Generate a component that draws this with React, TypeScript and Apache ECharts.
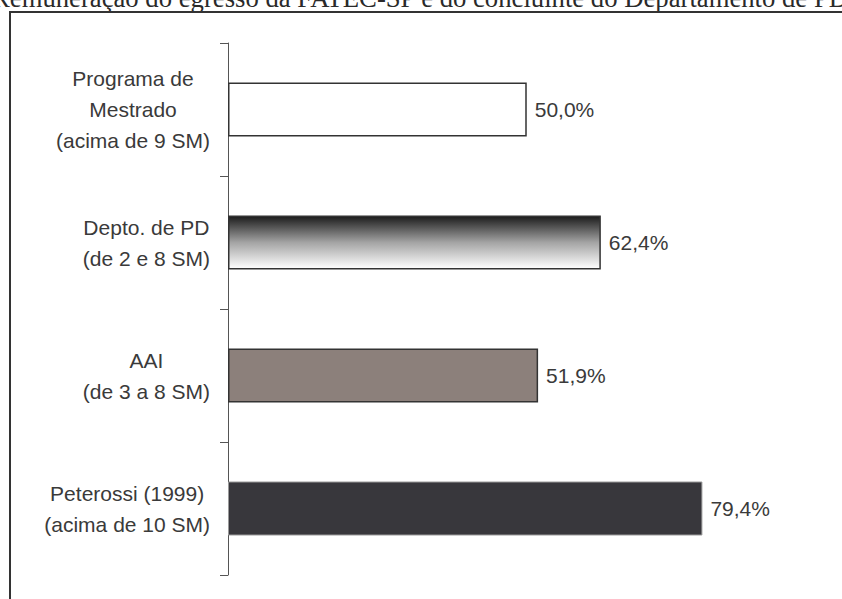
import React, { useEffect, useRef } from "react";
import * as echarts from "echarts";

const titleText = "Remuneração do egresso da FATEC-SP e do concluinte do Departamento de PD";
const categories = [
  "Programa de\nMestrado\n(acima de 9 SM)",
  "Depto. de PD\n(de 2 e 8 SM)",
  "AAI\n(de 3 a 8 SM)",
  "Peterossi (1999)\n(acima de 10 SM)",
];
const values = [50.0, 62.4, 51.9, 79.4];

export default function App() {
  const ref = useRef<HTMLDivElement>(null);
  useEffect(() => {
    document.body.style.margin = "0";
    const chart = echarts.init(ref.current!, null, { renderer: "svg" });
    const fills: any[] = [
      "#ffffff",
      new echarts.graphic.LinearGradient(0, 0, 0, 1, [
        { offset: 0, color: "#1c1c1c" },
        { offset: 0.5, color: "#a4a4a4" },
        { offset: 1, color: "#ffffff" },
      ]),
      "#8c807b",
      "#38373c",
    ];
    const borders = ["#333333", "#333333", "#333333", "#9a9a9a"];
    const borderWidths = [1.5, 1.5, 1.5, 1];
    chart.setOption({
      animation: false,
      backgroundColor: "#ffffff",
      graphic: [
        {
          type: "text",
          style: {
            text: titleText,
            x: -8,
            y: -2,
            fontSize: 26.7,
            fontFamily: "Liberation Serif",
            fill: "#2a2a2a",
            verticalAlign: "middle",
          },
        },
        {
          type: "rect",
          shape: { x: 10, y: 12, width: 1000, height: 800 },
          style: { fill: "none", stroke: "#333333", lineWidth: 2 },
        },
      ],
      grid: { left: 228, top: 43, height: 532, width: 597.5, containLabel: false },
      xAxis: {
        type: "value",
        min: 0,
        max: 100,
        show: false,
      },
      yAxis: {
        type: "category",
        data: categories,
        inverse: true,
        axisLine: { show: true, lineStyle: { color: "#555555", width: 1 } },
        axisTick: { show: true, length: 8, lineStyle: { color: "#555555", width: 1 } },
        splitLine: { show: false },
        axisLabel: {
          margin: 18,
          formatter: (v: string) =>
            v
              .split("\n")
              .map((l) => "{c|" + l + "}")
              .join("\n"),
          rich: {
            c: {
              align: "center",
              fontSize: 21,
              lineHeight: 31,
              fontFamily: "Liberation Sans",
              color: "#3a3a3a",
            },
          },
        },
      },
      series: [
        {
          type: "bar",
          barWidth: 54,
          data: values.map((v, i) => ({
            value: v,
            itemStyle: {
              color: fills[i],
              borderColor: borders[i],
              borderWidth: borderWidths[i],
            },
          })),
          label: {
            show: true,
            position: "right",
            distance: 8,
            fontSize: 21,
            fontFamily: "Liberation Sans",
            color: "#3a3a3a",
            formatter: (p: any) => p.value.toFixed(1).replace(".", ",") + "%",
          },
        },
      ],
    });
    return () => chart.dispose();
  }, []);
  return (
    <div
      ref={ref}
      style={{ position: "fixed", left: 0, top: 0, width: 842, height: 599 }}
    />
  );
}
